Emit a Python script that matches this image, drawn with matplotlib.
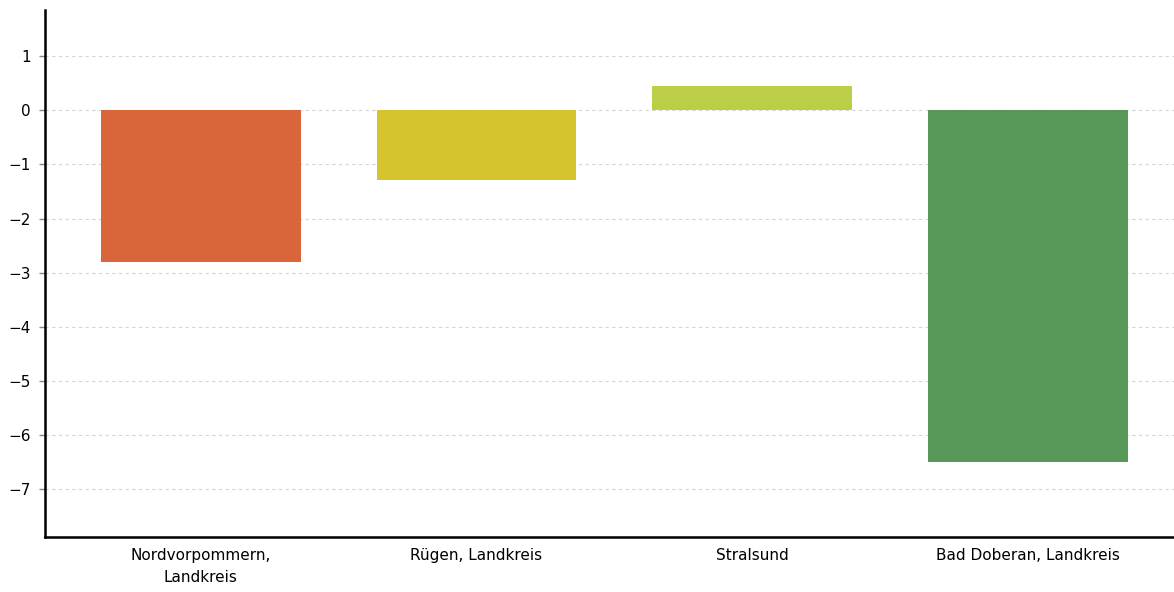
import numpy as np
import matplotlib.pyplot as plt

categories = ["Nordvorpommern,\nLandkreis", "Rügen, Landkreis", "Stralsund", "Bad Doberan, Landkreis"]
values = [-2.8, -1.28, 0.45, -6.5]
colors = ["#D9663A", "#D6C42F", "#BCCD47", "#579858"]
y_ticks = [1, 0, -1, -2, -3, -4, -5, -6, -7]

fig = plt.figure(figsize=(11.74, 5.92), dpi=100)
ax = fig.add_axes([45 / 1174, 1 - 537 / 592, 1 - 45 / 1174, (537 - 10) / 592])

x = np.arange(len(categories))
ax.bar(x, values, width=0.725, color=colors, zorder=3)

ax.set_xlim(-0.565, 3.53)
ax.set_ylim(-7.88, 1.85)
ax.set_yticks(y_ticks)
ax.set_yticklabels([str(t).replace("-", "\u2212") for t in y_ticks], fontsize=11)
ax.set_xticks(x)
ax.set_xticklabels(categories, fontsize=11, linespacing=1.6)
ax.tick_params(axis='x', length=0, pad=8)
ax.tick_params(axis='y', length=4, width=1, color='#888888', pad=6)

ax.grid(axis='y', color='#d5d5d5', linestyle=(0, (3, 3)), linewidth=0.8, zorder=0)
for s in ['top', 'right']:
    ax.spines[s].set_visible(False)
ax.spines['left'].set_linewidth(1.8)
ax.spines['bottom'].set_linewidth(1.8)

fig.savefig("out.png", dpi=100)
